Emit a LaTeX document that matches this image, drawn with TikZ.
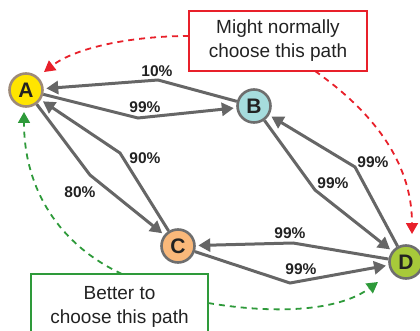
\documentclass[tikz,border=0pt]{standalone}
\usepackage{fontspec}
\setmainfont{Liberation Sans}
\usetikzlibrary{arrows.meta}
\definecolor{edgegray}{HTML}{666666}
\definecolor{ringgray}{HTML}{6E6E6E}
\definecolor{ringbrown}{HTML}{9E8A78}
\definecolor{fillA}{HTML}{FFE500}
\definecolor{fillB}{HTML}{A6DCDD}
\definecolor{fillC}{HTML}{F9B87A}
\definecolor{fillD}{HTML}{A7C93A}
\definecolor{redline}{HTML}{E8202A}
\definecolor{greenline}{HTML}{2E9A3A}
\definecolor{txt}{HTML}{222222}
\tikzset{
  vertex/.style={circle, minimum size=33pt, inner sep=0pt, line width=2.6pt, draw=ringgray,
    font=\fontsize{21}{21}\selectfont\bfseries, text=txt},
  edge/.style={draw=edgegray, line width=3pt, -{Triangle[length=12pt,width=13pt]}, shorten >=2.5pt},
  lbl/.style={font=\fontsize{15.5}{16}\selectfont\bfseries, text=txt, inner sep=0pt},
  note/.style={draw, line width=2pt, align=center, font=\fontsize{19}{24}\selectfont, text=txt, inner sep=0pt},
  hint/.style={line width=1.8pt, dash pattern=on 6pt off 5pt, -{Triangle[length=11pt,width=12pt]}}
}
\begin{document}
\begin{tikzpicture}[x=1pt,y=-1pt]
\useasboundingbox (0,0) rectangle (420,331);
% nodes
\node[vertex, fill=fillA, draw=ringbrown] (A) at (26,90) {A};
\node[vertex, fill=fillB] (B) at (254,106) {B};
\node[vertex, fill=fillC] (C) at (178,246) {C};
\node[vertex, fill=fillD] (D) at (406,262) {D};
% bend points
\coordinate (ba) at (158,80);
\coordinate (ab) at (138,118);
\coordinate (ca) at (120,153);
\coordinate (ac) at (90,175);
\coordinate (db) at (355,167);
\coordinate (bd) at (315,190);
\coordinate (dc) at (293,243);
\coordinate (cd) at (290,283);
% edges
\draw[edge] (B) -- (ba) -- (A);
\draw[edge] (A) -- (ab) -- (B);
\draw[edge] (C) -- (ca) -- (A);
\draw[edge] (A) -- (ac) -- (C);
\draw[edge] (D) -- (db) -- (B);
\draw[edge] (B) -- (bd) -- (D);
\draw[edge] (D) -- (dc) -- (C);
\draw[edge] (C) -- (cd) -- (D);
% labels
\node[lbl] (l1) at (157,71) {10\%};
\node[lbl] (l2) at (145,107) {99\%};
\node[lbl] (l3) at (145,158) {90\%};
\node[lbl] (l4) at (80,192) {80\%};
\node[lbl] (l5) at (373,162) {99\%};
\node[lbl] (l6) at (333,183) {99\%};
\node[lbl] (l7) at (290,233) {99\%};
\node[lbl] (l8) at (301,269) {99\%};
% notes
\node[note, draw=redline, minimum width=178pt, minimum height=60pt] (rnote) at (278,41) {Might normally\\choose this path};
\node[note, draw=greenline, minimum width=177pt, minimum height=66pt] (gnote) at (119.5,307) {Better to\\choose this path};
\coordinate (r1) at (189,36);
\coordinate (r2) at (315,71);
\coordinate (g1) at (122,274);
\coordinate (g2) at (208,303);
\coordinate (rA) at (44,72);
\coordinate (rD) at (412,234);
\coordinate (gA) at (24,112);
\coordinate (gD) at (378,282);
\draw[hint, redline] (r1) .. controls (130,36) and (75,48) .. (rA);
\draw[hint, redline] (r2) .. controls (370,110) and (412,160) .. (rD);
\draw[hint, greenline] (g1) .. controls (60,245) and (24,190) .. (gA);
\draw[hint, greenline] (g2) .. controls (280,315) and (340,310) .. (gD);
\end{tikzpicture}
\end{document}
